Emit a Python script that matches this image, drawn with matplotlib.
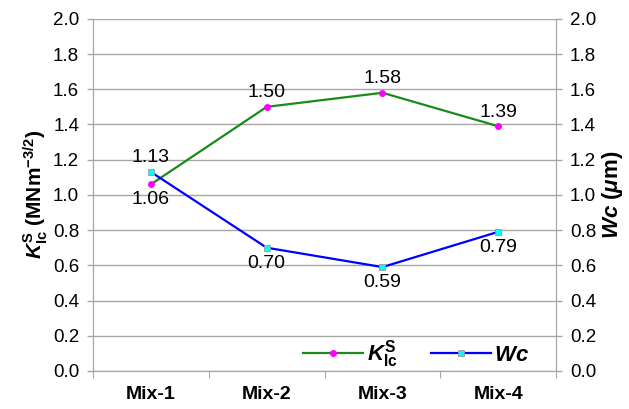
import matplotlib
matplotlib.use('Agg')
import matplotlib.pyplot as plt
from matplotlib.ticker import MultipleLocator, FixedLocator, NullFormatter

plt.rcParams['font.family'] = ['Liberation Sans', 'DejaVu Sans']
plt.rcParams['mathtext.fontset'] = 'custom'
plt.rcParams['mathtext.rm'] = 'Liberation Sans:bold'
plt.rcParams['mathtext.it'] = 'Liberation Sans:italic:bold'
plt.rcParams['mathtext.bf'] = 'Liberation Sans:bold'

# toughness and crack width per mix
mixes = ['Mix-1', 'Mix-2', 'Mix-3', 'Mix-4']
kic = [1.06, 1.50, 1.58, 1.39]
wc = [1.13, 0.70, 0.59, 0.79]

grid_col = '#a6a6a6'
lab_fs = 14

fig = plt.figure(figsize=(6.29, 4.09), dpi=100)
ax = fig.add_axes([0.148, 0.093, 0.736, 0.861])
ax2 = ax.twinx()

x = list(range(1, len(mixes) + 1))

l1, = ax.plot(x, kic, color='#1a8a1a', lw=1.6, marker='o', ms=4,
              mfc='#ff00ff', mec='#ff00ff', zorder=3)
l2, = ax2.plot(x, wc, color='#0000ff', lw=1.6, marker='s', ms=5,
               mfc='#00ffff', mec='#999999', mew=0.6, zorder=3)

# value labels
for xi, v in zip(x, kic):
    if v < 1.1:
        ax.annotate('%.2f' % v, (xi, v), xytext=(0, -5), textcoords='offset points',
                    ha='center', va='top', fontsize=lab_fs)
    else:
        ax.annotate('%.2f' % v, (xi, v), xytext=(0, 4), textcoords='offset points',
                    ha='center', va='bottom', fontsize=lab_fs)
for xi, v in zip(x, wc):
    if v > 1.0:
        ax2.annotate('%.2f' % v, (xi, v), xytext=(0, 4), textcoords='offset points',
                     ha='center', va='bottom', fontsize=lab_fs)
    else:
        ax2.annotate('%.2f' % v, (xi, v), xytext=(0, -5), textcoords='offset points',
                     ha='center', va='top', fontsize=lab_fs)

for a in (ax, ax2):
    a.set_ylim(0, 2.0)
    a.yaxis.set_major_locator(MultipleLocator(0.2))
    a.yaxis.set_major_formatter(matplotlib.ticker.FormatStrFormatter('%.1f'))
    a.tick_params(axis='y', labelsize=13.5, length=4, color=grid_col, width=1, pad=6)
    for s in a.spines.values():
        s.set_color(grid_col)
    a.spines['top'].set_visible(False)

ax.set_xlim(0.5, len(mixes) + 0.5)
ax.grid(axis='y', color=grid_col, lw=1)
ax.set_axisbelow(True)
ax.xaxis.set_major_locator(FixedLocator([i + 0.5 for i in range(len(mixes) + 1)]))
ax.xaxis.set_major_formatter(NullFormatter())
ax.xaxis.set_minor_locator(FixedLocator(x))
ax.set_xticklabels(mixes, minor=True, fontweight='bold', fontsize=14)
ax.tick_params(axis='x', which='major', length=5, color=grid_col)
ax.tick_params(axis='x', which='minor', length=0, pad=11)

ax.set_ylabel(r'$K_{\mathrm{Ic}}^{\mathrm{S}}$ (MNm$^{-3/2}$)', fontsize=15,
              fontweight='bold', labelpad=2)
ax2.set_ylabel(r'$Wc$ ($\mu$m)', fontsize=16, fontweight='bold', rotation=90,
               labelpad=3)

ax.legend([l1, l2], [r'$K_{\mathrm{Ic}}^{\mathrm{S}}$', r'$Wc$'], ncol=2,
          loc='lower right', bbox_to_anchor=(0.985, -0.055), frameon=False,
          fontsize=16, handlelength=2.7, columnspacing=1.5, handletextpad=0.15)

fig.savefig('out.png', dpi=100)
